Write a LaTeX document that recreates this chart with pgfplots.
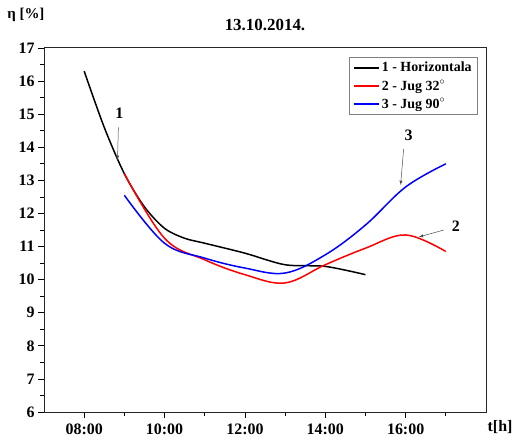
\documentclass[border=0pt]{standalone}
\usepackage{pgfplots}
\pgfplotsset{compat=1.18}
\usepackage{fontspec}
\setmainfont{Liberation Serif}
\begin{document}
\begin{tikzpicture}
\path[use as bounding box] (0,0) rectangle (515bp,440bp);
\begin{axis}[
  at={(44bp,28bp)}, anchor=south west,
  scale only axis, width=442bp, height=364bp,
  xmin=7, xmax=18, ymin=6, ymax=17,
  xtick={8,10,12,14,16},
  xticklabels={08:00,10:00,12:00,14:00,16:00},
  minor xtick={9,11,13,15,17},
  ytick={6,7,...,17},
  minor ytick={6.5,7.5,...,16.5},
  tick align=outside,
  xtick pos=bottom, ytick pos=left,
  major tick length=6bp, minor tick length=3.5bp,
  every tick/.style={black, line width=0.8pt},
  axis line style={line width=1pt, black!85},
  /pgf/number format/assume math mode=true,
  tick label style={font=\fontsize{16}{18}\selectfont\bfseries},
  xticklabel style={yshift=-2bp},
  clip=false,
  legend style={at={(1,1)}, anchor=north east, xshift=-8bp, yshift=-9bp,
    draw=black!50, line width=0.6pt, font=\fontsize{14}{15}\selectfont\bfseries,
    inner xsep=4bp, inner ysep=3bp, row sep=3pt},
  legend cell align=left,
  legend image post style={xscale=1.5, line width=1.4pt},
]
\addplot[black, line width=1.5pt, smooth, tension=0.5] coordinates {
 (8,16.3) (8.5,14.6) (9,13.2) (9.5,12.2) (10,11.55) (10.5,11.25) (11,11.1) (12,10.8) (13,10.45) (14,10.4) (15,10.15)};
\addlegendentry{1 - Horizontala}
\addplot[red, line width=1.5pt, smooth, tension=0.6] coordinates {
 (9,13.2) (10,11.25) (11,10.6) (12,10.15) (13,9.9) (14,10.45) (15,10.95) (16,11.35) (17,10.85)};
\addlegendentry{2 - Jug 32$^{\circ}$}
\addplot[blue, line width=1.5pt, smooth, tension=0.6] coordinates {
 (9,12.55) (10,11.1) (11,10.65) (12,10.35) (13,10.2) (14,10.75) (15,11.65) (16,12.8) (17,13.5)};
\addlegendentry{3 - Jug 90$^{\circ}$}

\node[font=\fontsize{16}{18}\selectfont\bfseries] at (axis cs:8.875,15.04) {1};
\draw[-latex, black!70, line width=0.5pt] (axis cs:8.85,14.6) -- (axis cs:8.83,13.62);
\node[font=\fontsize{16}{18}\selectfont\bfseries] at (axis cs:16.075,14.37) {3};
\draw[-latex, black!70, line width=0.5pt] (axis cs:15.95,13.95) -- (axis cs:15.875,12.86);
\node[font=\fontsize{16}{18}\selectfont\bfseries] at (axis cs:17.25,11.6) {2};
\draw[-latex, black!70, line width=0.5pt] (axis cs:16.95,11.5) -- (axis cs:16.33,11.29);

\node[font=\fontsize{17}{20}\selectfont\bfseries] at (axis cs:12.5,17.7) {13.10.2014.};
\node[font=\fontsize{15}{17}\selectfont\bfseries] at (axis cs:6.55,18.0) {η [\%]};
\node[font=\fontsize{16}{18}\selectfont\bfseries] at (axis cs:18.35,5.55) {t[h]};
\end{axis}
\end{tikzpicture}
\end{document}
